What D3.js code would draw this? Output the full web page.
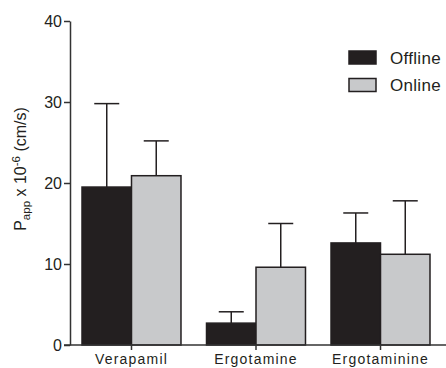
<!DOCTYPE html>
<html>
<head>
<meta charset="utf-8">
<script src="https://cdn.jsdelivr.net/npm/d3@7"></script>
<style>
  body { margin: 0; background: #fff; }
  svg { display: block; }
</style>
</head>
<body>
<script>
// values
const categories = ['Verapamil', 'Ergotamine', 'Ergotaminine']
const series = ['Offline', 'Online']
const offlineMean = [19.5, 2.7, 12.6]
const offlineErr = [10.3, 1.4, 3.7]
const onlineMean = [20.9, 9.6, 11.2]
const onlineErr = [4.3, 5.4, 6.6]
const yTicks = [0, 10, 20, 30, 40]

const width = 446
const height = 368
const margin = { top: 21, right: 0, bottom: 23, left: 70 }
const colors = { Offline: '#231f20', Online: '#c8c9cb' }
const ink = '#231f20'

const svg = d3.select('body').append('svg')
  .attr('width', width)
  .attr('height', height)
  .style('font-family', 'Liberation Sans, Arial, sans-serif')

const yScale = d3.scaleLinear().domain([0, 40]).range([height - margin.bottom, margin.top])
const xScale = d3.scaleBand().domain(categories).range([margin.left, 442]).paddingInner(0.205).paddingOuter(0.0964)
const xSub = d3.scaleBand().domain(series).range([0, xScale.bandwidth()])

const rows = categories.map((c, i) => ({
  cat: c,
  values: [
    { key: 'Offline', mean: offlineMean[i], err: offlineErr[i] },
    { key: 'Online', mean: onlineMean[i], err: onlineErr[i] }
  ]
}))

// error bars first so bars sit on top of the lower stem
const groups = svg.selectAll('g.cat')
  .data(rows)
  .enter()
  .append('g')
  .attr('class', 'cat')
  .attr('transform', d => 'translate(' + xScale(d.cat) + ',0)')

const bars = groups.selectAll('g.bar')
  .data(d => d.values)
  .enter()
  .append('g')

bars.append('line')
  .attr('x1', d => xSub(d.key) + xSub.bandwidth() / 2)
  .attr('x2', d => xSub(d.key) + xSub.bandwidth() / 2)
  .attr('y1', d => yScale(d.mean))
  .attr('y2', d => yScale(d.mean + d.err))
  .style('stroke', ink)
  .style('stroke-width', 1.5)

bars.append('line')
  .attr('x1', d => xSub(d.key) + xSub.bandwidth() / 2 - 12.5)
  .attr('x2', d => xSub(d.key) + xSub.bandwidth() / 2 + 12.5)
  .attr('y1', d => yScale(d.mean + d.err))
  .attr('y2', d => yScale(d.mean + d.err))
  .style('stroke', ink)
  .style('stroke-width', 1.5)

bars.append('rect')
  .attr('x', d => xSub(d.key))
  .attr('width', xSub.bandwidth())
  .attr('y', d => yScale(d.mean))
  .attr('height', d => yScale(0) - yScale(d.mean))
  .style('fill', d => colors[d.key])
  .style('stroke', ink)
  .style('stroke-width', 1.5)

// axes
const yaxis = d3.axisLeft(yScale).tickValues(yTicks).tickSize(6).tickSizeOuter(0)
svg.append('g')
  .attr('class', 'axis')
  .attr('transform', 'translate(' + margin.left + ',0)')
  .call(yaxis)
  .selectAll('text')
  .style('font-size', '16px')
  .attr('dx', '1')

const xaxis = d3.axisBottom(xScale).tickSize(5).tickSizeOuter(0)
const xg = svg.append('g')
  .attr('class', 'axis')
  .attr('transform', 'translate(0,' + yScale(0) + ')')
  .call(xaxis)
xg.select('.domain').attr('d', 'M' + (margin.left - 6) + ',0H' + width)
xg.selectAll('.tick').attr('transform', d => 'translate(' + (xScale(d) + xScale.bandwidth() / 2) + ',0)')
xg.selectAll('text')
  .style('font-size', '14px')
  .style('letter-spacing', '1.2px')
  .attr('y', 6.5)
  .attr('dy', '0.9em')

svg.selectAll('.axis text').style('fill', ink)
svg.selectAll('.axis path, .axis line')
  .style('stroke', '#333')
  .style('stroke-width', 1.5)

// y label
const ylab = svg.append('text')
  .attr('transform', 'translate(26,169) rotate(-90)')
  .attr('text-anchor', 'middle')
  .style('font-size', '16px')
  .style('fill', ink)
ylab.append('tspan').text('P')
ylab.append('tspan').text('app').attr('dy', 4).style('font-size', '11.5px')
ylab.append('tspan').text(' x 10').attr('dy', -4)
ylab.append('tspan').text('-6').attr('dy', -6).style('font-size', '11.5px')
ylab.append('tspan').text(' (cm/s)').attr('dy', 6)

// legend
const legend = svg.selectAll('g.legend')
  .data(series)
  .enter()
  .append('g')
  .attr('transform', (d, i) => 'translate(349,' + (51 + i * 27.5) + ')')

legend.append('rect')
  .attr('width', 27)
  .attr('height', 13)
  .style('fill', d => colors[d])
  .style('stroke', ink)
  .style('stroke-width', 1.5)

legend.append('text')
  .attr('x', 41)
  .attr('y', 12.5)
  .style('font-size', '17px')
  .style('letter-spacing', '0.3px')
  .style('fill', ink)
  .text(d => d)
</script>
</body>
</html>
